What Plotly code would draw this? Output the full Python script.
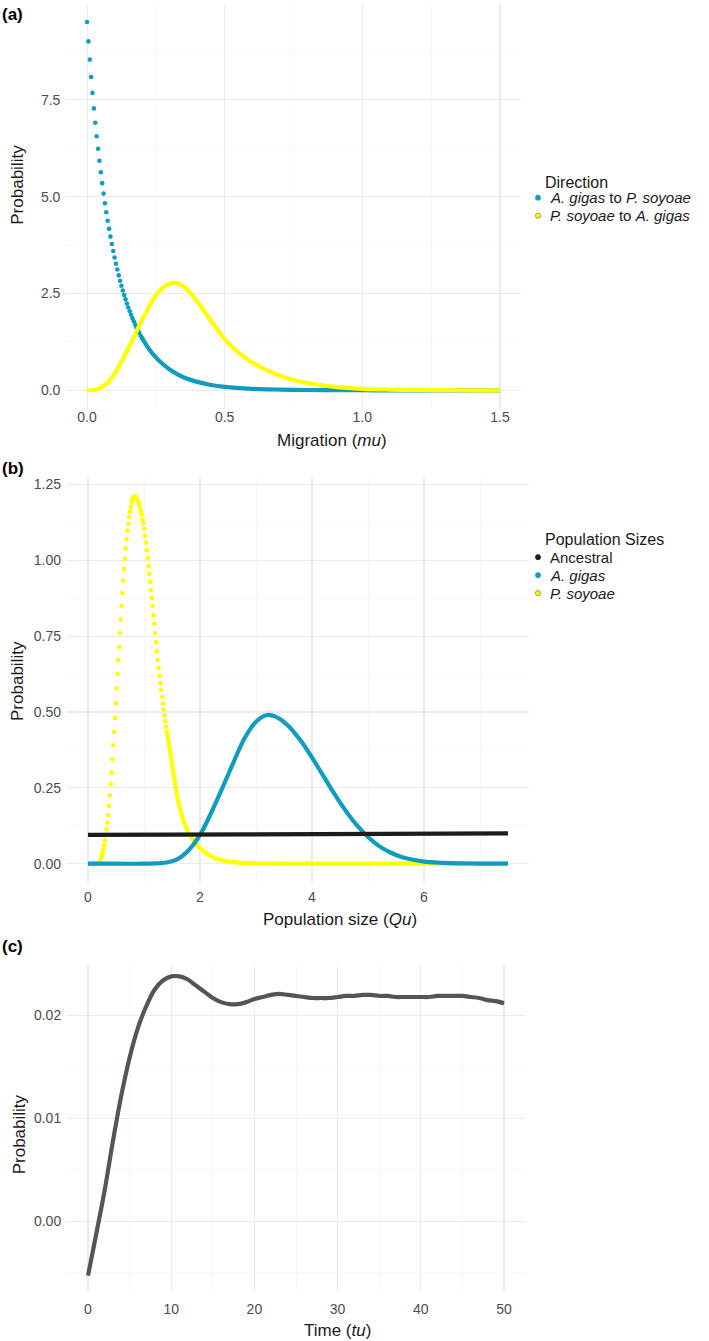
import plotly.graph_objects as go

W, H = 709, 1341

# ---------------- Panel (a): migration ----------------
a_blue_x = [0.000, 0.005, 0.010, 0.015, 0.020, 0.025, 0.030, 0.035, 0.040, 0.045,
            0.050, 0.055, 0.060, 0.065, 0.070, 0.075, 0.080, 0.085, 0.090, 0.095,
            0.100, 0.105, 0.110, 0.115, 0.120, 0.125, 0.130, 0.135, 0.140, 0.145,
            0.150, 0.155, 0.160, 0.165, 0.170, 0.175, 0.180, 0.185, 0.190, 0.195,
            0.200, 0.225, 0.250, 0.275, 0.300, 0.350, 0.400, 0.450, 0.500, 0.600,
            0.700, 0.800, 0.900, 1.000, 1.100, 1.200, 1.300, 1.400, 1.500]
a_blue_y = [9.51, 9.01, 8.54, 8.09, 7.68, 7.28, 6.91, 6.56, 6.24, 5.93,
            5.63, 5.35, 5.08, 4.83, 4.60, 4.38, 4.17, 3.97, 3.78, 3.60,
            3.43, 3.27, 3.12, 2.97, 2.83, 2.70, 2.58, 2.46, 2.35, 2.24,
            2.14, 2.04, 1.95, 1.86, 1.78, 1.70, 1.62, 1.55, 1.48, 1.41,
            1.35, 1.07, 0.85, 0.68, 0.54, 0.34, 0.22, 0.14, 0.09, 0.04,
            0.02, 0.01, 0.006, 0.003, 0.002, 0.001, 0.0005, 0.0003, 0.0002]

a_yellow_x = [0.0, 0.025, 0.05, 0.075, 0.1, 0.125, 0.15, 0.175, 0.2, 0.225, 0.25,
              0.275, 0.3, 0.325, 0.35, 0.375, 0.4, 0.425, 0.45, 0.475, 0.5, 0.525,
              0.55, 0.575, 0.6, 0.65, 0.7, 0.75, 0.8, 0.9, 1.0, 1.1, 1.2, 1.3, 1.4, 1.5]
a_yellow_y = [0.0, 0.01, 0.07, 0.2, 0.43, 0.74, 1.08, 1.45, 1.82, 2.16, 2.45,
              2.65, 2.76, 2.77, 2.69, 2.52, 2.30, 2.05, 1.80, 1.56, 1.33, 1.14,
              0.98, 0.84, 0.72, 0.53, 0.38, 0.27, 0.19, 0.09, 0.04, 0.02, 0.01,
              0.005, 0.002, 0.001]

a_legend_title = "Direction"
a_legend_labels = ["<i>A. gigas</i> to <i>P. soyoae</i>", "<i>P. soyoae</i> to <i>A. gigas</i>"]

# ---------------- Panel (b): population sizes ----------------
b_yellow_x = [0.0, 0.1, 0.15, 0.18, 0.2, 0.22, 0.24, 0.26,
              0.270, 0.285, 0.300, 0.315, 0.330, 0.345, 0.360, 0.375, 0.390, 0.405,
              0.420, 0.435, 0.450, 0.465, 0.480, 0.495, 0.510, 0.525, 0.540, 0.555,
              0.570, 0.585, 0.600, 0.615, 0.630, 0.645, 0.660, 0.675, 0.690, 0.705,
              0.720, 0.735, 0.750, 0.765, 0.780, 0.795, 0.810, 0.825, 0.840, 0.855,
              0.870, 0.885, 0.900, 0.915, 0.930, 0.945, 0.960, 0.975, 0.990, 1.005,
              1.020, 1.035, 1.050, 1.065, 1.080, 1.095, 1.110, 1.125, 1.140, 1.155,
              1.170, 1.185, 1.200, 1.215, 1.230, 1.245, 1.260, 1.275, 1.290, 1.305,
              1.320, 1.335, 1.350, 1.365, 1.380, 1.395, 1.410,
              1.45, 1.50, 1.55, 1.60, 1.65, 1.70, 1.75, 1.80, 1.85, 1.90, 1.95, 2.00,
              2.10, 2.20, 2.30, 2.40, 2.60, 2.80, 3.00, 3.50, 4.0, 5.0, 6.0, 7.0, 7.5]
b_yellow_y = [0.0, 0.0, 0.0005, 0.002, 0.005, 0.011, 0.02, 0.035,
              0.045, 0.060, 0.076, 0.094, 0.114, 0.136, 0.160, 0.190, 0.225, 0.262,
              0.300, 0.345, 0.390, 0.435, 0.480, 0.529, 0.578, 0.625, 0.670, 0.715,
              0.760, 0.805, 0.850, 0.891, 0.933, 0.971, 1.005, 1.039, 1.070, 1.098,
              1.120, 1.143, 1.160, 1.175, 1.190, 1.201, 1.208, 1.210, 1.210, 1.206,
              1.203, 1.198, 1.190, 1.183, 1.173, 1.161, 1.150, 1.133, 1.120, 1.103,
              1.080, 1.058, 1.033, 1.006, 0.980, 0.954, 0.928, 0.901, 0.875, 0.849,
              0.820, 0.790, 0.760, 0.730, 0.700, 0.671, 0.645, 0.619, 0.595, 0.573,
              0.550, 0.528, 0.508, 0.489, 0.470, 0.451, 0.433,
              0.39, 0.33, 0.27, 0.215, 0.175, 0.145, 0.12, 0.10, 0.085, 0.071, 0.06, 0.052,
              0.036, 0.024, 0.016, 0.011, 0.005, 0.002, 0.001, 0.0, 0.0, 0.0, 0.0, 0.0, 0.0]

b_blue_x = [0.0, 0.5, 1.0, 1.2, 1.4, 1.6, 1.8, 2.0, 2.2, 2.4, 2.6, 2.8, 3.0, 3.2,
            3.4, 3.6, 3.8, 4.0, 4.2, 4.4, 4.6, 4.8, 5.0, 5.2, 5.4, 5.6, 5.8, 6.0,
            6.5, 7.0, 7.5]
b_blue_y = [0.0, 0.0, 0.0, 0.001, 0.004, 0.015, 0.045, 0.095, 0.168, 0.25, 0.335, 0.415,
            0.468, 0.49, 0.48, 0.45, 0.405, 0.35, 0.29, 0.23, 0.175, 0.127, 0.088, 0.058,
            0.037, 0.022, 0.013, 0.007, 0.002, 0.0005, 0.0]

b_anc_x = [0.0, 2.5, 5.0, 7.5]
b_anc_y = [0.095, 0.0967, 0.0983, 0.100]

b_legend_title = "Population Sizes"
b_legend_labels = ["Ancestral", "<i>A. gigas</i>", "<i>P. soyoae</i>"]

# ---------------- Panel (c): time ----------------
c_t = [0, 1, 2, 3, 4, 5, 6, 7, 8, 9, 10, 11, 12, 13, 14, 15, 16, 17, 18, 19, 20,
       21, 22, 23, 24, 25, 26, 27, 28, 29, 30, 31, 32, 33, 34, 35, 36, 37, 38, 39, 40,
       41, 42, 43, 44, 45, 46, 47, 48, 49, 50]
c_p = [-0.0053, -0.0012, 0.0030, 0.0078, 0.0122, 0.0159, 0.0188, 0.0209, 0.0225, 0.0234,
       0.0238, 0.0238, 0.0235, 0.0229, 0.0223, 0.0217, 0.0213, 0.0211, 0.0211, 0.0213,
       0.0216, 0.0218, 0.0220, 0.0221, 0.0220, 0.0219, 0.0218, 0.0217, 0.0217, 0.0217,
       0.0218, 0.0219, 0.0219, 0.0220, 0.0220, 0.0219, 0.0219, 0.0218, 0.0218, 0.0218,
       0.0218, 0.0218, 0.0219, 0.0219, 0.0219, 0.0219, 0.0218, 0.0217, 0.0215, 0.0214,
       0.0212]
c_se = [0.00015, 0.00010, 0.00008, 0.00007, 0.00006, 0.00006, 0.00006, 0.00006, 0.00006, 0.00006,
        0.00006, 0.00006, 0.00006, 0.00006, 0.00006, 0.00006, 0.00006, 0.00006, 0.00006, 0.00006,
        0.00006, 0.00006, 0.00006, 0.00006, 0.00006, 0.00006, 0.00006, 0.00006, 0.00006, 0.00006,
        0.00006, 0.00006, 0.00006, 0.00006, 0.00006, 0.00006, 0.00006, 0.00006, 0.00006, 0.00006,
        0.00006, 0.00006, 0.00006, 0.00007, 0.00008, 0.00009, 0.00010, 0.00012, 0.00014, 0.00017,
        0.00020]

# ---------------- styling ----------------
BLUE = "#109CC0"
YELLOW = "#FFFF00"
BLACK = "#1C1C1C"
GREY_LINE = "#5A5353"
FONT = "Liberation Sans, Arial, Helvetica, sans-serif"
TICK_COL = "#4D4D4D"
LW = 4.2
MS = 4.6


def px(x):
    return x / W


def py(y):
    return 1 - y / H


fig = go.Figure()

# Panel (a) traces: blue drawn first, yellow on top
fig.add_trace(go.Scatter(
    x=[x for x in a_blue_x if x >= 0.2], y=[y for x, y in zip(a_blue_x, a_blue_y) if x >= 0.2],
    mode="lines", line=dict(color=BLUE, width=LW, shape="spline"),
    xaxis="x", yaxis="y", showlegend=False, hoverinfo="skip"))
fig.add_trace(go.Scatter(
    x=[x for x in a_blue_x if x <= 0.2], y=[y for x, y in zip(a_blue_x, a_blue_y) if x <= 0.2],
    mode="markers", marker=dict(color=BLUE, size=MS),
    xaxis="x", yaxis="y", showlegend=False, hoverinfo="skip"))
fig.add_trace(go.Scatter(
    x=a_yellow_x, y=a_yellow_y, mode="lines",
    line=dict(color=YELLOW, width=LW, shape="spline"),
    xaxis="x", yaxis="y", showlegend=False, hoverinfo="skip"))

# Panel (b) traces: yellow, blue, black
DOT_LO, DOT_HI = 0.27, 1.41
fig.add_trace(go.Scatter(
    x=[x for x in b_yellow_x if x <= DOT_LO],
    y=[y for x, y in zip(b_yellow_x, b_yellow_y) if x <= DOT_LO],
    mode="lines", line=dict(color=YELLOW, width=LW, shape="spline"),
    xaxis="x2", yaxis="y2", showlegend=False, hoverinfo="skip"))
fig.add_trace(go.Scatter(
    x=[x for x in b_yellow_x if DOT_LO <= x <= DOT_HI],
    y=[y for x, y in zip(b_yellow_x, b_yellow_y) if DOT_LO <= x <= DOT_HI],
    mode="markers", marker=dict(color=YELLOW, size=MS),
    xaxis="x2", yaxis="y2", showlegend=False, hoverinfo="skip"))
fig.add_trace(go.Scatter(
    x=[x for x in b_yellow_x if x >= DOT_HI],
    y=[y for x, y in zip(b_yellow_x, b_yellow_y) if x >= DOT_HI],
    mode="lines", line=dict(color=YELLOW, width=LW, shape="spline"),
    xaxis="x2", yaxis="y2", showlegend=False, hoverinfo="skip"))
fig.add_trace(go.Scatter(
    x=b_blue_x, y=b_blue_y, mode="lines",
    line=dict(color=BLUE, width=LW, shape="spline"),
    xaxis="x2", yaxis="y2", showlegend=False, hoverinfo="skip"))
fig.add_trace(go.Scatter(
    x=b_anc_x, y=b_anc_y, mode="lines",
    line=dict(color=BLACK, width=LW),
    xaxis="x2", yaxis="y2", showlegend=False, hoverinfo="skip"))

# Panel (c): ribbon + smooth line
c_up = [p + s for p, s in zip(c_p, c_se)]
c_lo = [p - s for p, s in zip(c_p, c_se)]
fig.add_trace(go.Scatter(
    x=c_t + c_t[::-1], y=c_up + c_lo[::-1], mode="lines", fill="toself",
    fillcolor="rgba(153,153,153,0.45)", line=dict(width=0, shape="spline"),
    xaxis="x3", yaxis="y3", showlegend=False, hoverinfo="skip"))
fig.add_trace(go.Scatter(
    x=c_t, y=c_p, mode="lines", line=dict(color=GREY_LINE, width=LW, shape="spline"),
    xaxis="x3", yaxis="y3", showlegend=False, hoverinfo="skip"))

MAJ = "#EBEBEB"
MIN = "#F3F3F3"


def axis_common(**kw):
    d = dict(showgrid=True, gridcolor=MAJ, gridwidth=1.1, zeroline=False, showline=False,
             ticks="", tickfont=dict(family=FONT, size=14, color=TICK_COL),
             minor=dict(showgrid=True, gridcolor=MIN, gridwidth=0.6),
             fixedrange=True)
    d.update(kw)
    return d


layout = dict(
    width=W, height=H, margin=dict(l=0, r=0, t=0, b=0),
    paper_bgcolor="white", plot_bgcolor="white", showlegend=False,
    font=dict(family=FONT, color="#1A1A1A"),
    # (a)
    xaxis=axis_common(domain=[px(66.4), px(520.6)], range=[-0.075, 1.575], anchor="y",
                      tickvals=[0, 0.5, 1.0, 1.5], ticktext=["0.0", "0.5", "1.0", "1.5"],
                      minor=dict(showgrid=True, gridcolor=MIN, gridwidth=0.6,
                                 tickvals=[0.25, 0.75, 1.25]), ticklabelstandoff=-2),
    yaxis=axis_common(domain=[py(407.4), py(1.6)], range=[-0.4755, 9.9855], anchor="x",
                      tickvals=[0, 2.5, 5.0, 7.5], ticktext=["0.0", "2.5", "5.0", "7.5"],
                      minor=dict(showgrid=True, gridcolor=MIN, gridwidth=0.6,
                                 tickvals=[1.25, 3.75, 6.25, 8.75]), ticklabelstandoff=5),
    # (b)
    xaxis2=axis_common(domain=[px(67), px(529)], range=[-0.375, 7.875], anchor="y2",
                       tickvals=[0, 2, 4, 6], ticktext=["0", "2", "4", "6"],
                       minor=dict(showgrid=True, gridcolor=MIN, gridwidth=0.6,
                                  tickvals=[1, 3, 5, 7]), ticklabelstandoff=5),
    yaxis2=axis_common(domain=[py(881.4), py(476.8)], range=[-0.0605, 1.2705], anchor="x2",
                       tickvals=[0, 0.25, 0.5, 0.75, 1.0, 1.25],
                       ticktext=["0.00", "0.25", "0.50", "0.75", "1.00", "1.25"],
                       minor=dict(showgrid=True, gridcolor=MIN, gridwidth=0.6,
                                  tickvals=[0.125, 0.375, 0.625, 0.875, 1.125]),
                       ticklabelstandoff=5),
    # (c)
    xaxis3=axis_common(domain=[px(67.2), px(524.8)], range=[-2.5, 52.5], anchor="y3",
                       tickvals=[0, 10, 20, 30, 40, 50],
                       minor=dict(showgrid=True, gridcolor=MIN, gridwidth=0.6,
                                  tickvals=[5, 15, 25, 35, 45]), ticklabelstandoff=8),
    yaxis3=axis_common(domain=[py(1290.5), py(963)], range=[-0.00675, 0.02505], anchor="x3",
                       tickvals=[0.0, 0.01, 0.02], ticktext=["0.00", "0.01", "0.02"],
                       minor=dict(showgrid=True, gridcolor=MIN, gridwidth=0.6,
                                  tickvals=[-0.005, 0.005, 0.015]), ticklabelstandoff=5),
)
fig.update_layout(**layout)

ann = []


def add_text(text, x, y, size, color="#1A1A1A", xanchor="center", yanchor="middle", angle=0, bold=False):
    if bold:
        text = "<b>" + text + "</b>"
    ann.append(dict(text=text, x=px(x), y=py(y), xref="paper", yref="paper", showarrow=False,
                    xanchor=xanchor, yanchor=yanchor, textangle=angle,
                    font=dict(family=FONT, size=size, color=color)))


# panel tags
add_text("(a)", 0, 13, 17, "#000000", xanchor="left", bold=True)
add_text("(b)", 0, 467, 17, "#000000", xanchor="left", bold=True)
add_text("(c)", 0, 946, 17, "#000000", xanchor="left", bold=True)
# y titles
add_text("Probability", 18, 183, 17, angle=-90)
add_text("Probability", 18, 680, 17, angle=-90)
add_text("Probability", 19, 1134, 17, angle=-90)
# x titles
add_text("Migration (<i>mu</i>)", 332, 439, 17)
add_text("Population size (<i>Qu</i>)", 340, 919, 17)
add_text("Time (<i>tu</i>)", 337, 1330, 17)

# legends
LEG_TX = 543
LEG_DOT = 538
add_text(a_legend_title, LEG_TX, 181, 16, xanchor="left")
a_cols = [BLUE, YELLOW]
for i, (lab, col) in enumerate(zip(a_legend_labels, a_cols)):
    yy = 196 + 18 * i
    add_text(lab, LEG_TX + 5, yy, 15, xanchor="left")
add_text(b_legend_title, LEG_TX, 538, 16, xanchor="left")
b_cols = [BLACK, BLUE, YELLOW]
for i, (lab, col) in enumerate(zip(b_legend_labels, b_cols)):
    yy = 556 + 18 * i
    add_text(lab, LEG_TX + 5, yy, 15, xanchor="left")

shapes = []
r = 2.6
for i, col in enumerate(a_cols):
    yy = 196 + 18 * i
    shapes.append(dict(type="circle", xref="paper", yref="paper",
                       x0=px(LEG_DOT - r), x1=px(LEG_DOT + r), y0=py(yy + r), y1=py(yy - r),
                       fillcolor=col, line=dict(color="#6b6b2a" if col == YELLOW else col, width=0.6)))
for i, col in enumerate(b_cols):
    yy = 556 + 18 * i
    shapes.append(dict(type="circle", xref="paper", yref="paper",
                       x0=px(LEG_DOT - r), x1=px(LEG_DOT + r), y0=py(yy + r), y1=py(yy - r),
                       fillcolor=col, line=dict(color="#6b6b2a" if col == YELLOW else col, width=0.6)))

fig.update_layout(annotations=ann, shapes=shapes)
fig.write_html("out.html",
               config={"displayModeBar": False, "staticPlot": True},
               post_script="document.body.style.margin='0px';document.body.style.padding='0px';"
                           "document.body.style.overflow='hidden';")
